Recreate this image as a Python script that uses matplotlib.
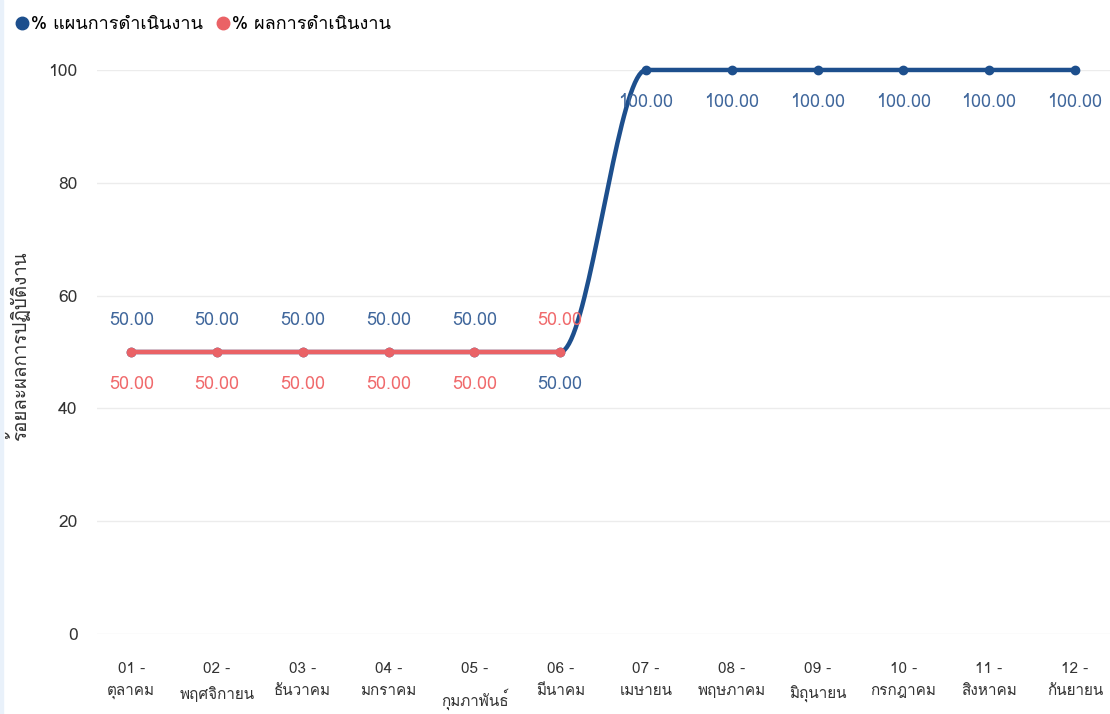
import matplotlib
matplotlib.use("Agg")
import matplotlib.pyplot as plt
import numpy as np
from matplotlib import font_manager
from matplotlib.ft2font import FT2Font
from matplotlib.lines import Line2D
from matplotlib.patches import Rectangle

# data
months = ["01 -\nตุลาคม", "02 -\nพฤศจิกายน", "03 -\nธันวาคม", "04 -\nมกราคม",
          "05 -\nกุมภาพันธ์", "06 -\nมีนาคม", "07 -\nเมษายน", "08 -\nพฤษภาคม",
          "09 -\nมิถุนายน", "10 -\nกรกฎาคม", "11 -\nสิงหาคม", "12 -\nกันยายน"]
plan_pct = [50, 50, 50, 50, 50, 50, 100, 100, 100, 100, 100, 100]
actual_pct = [50, 50, 50, 50, 50, 50]
plan_name = "% แผนการดำเนินงาน"
actual_name = "% ผลการดำเนินงาน"
y_title = "ร้อยละผลการปฏิบัติงาน"
y_ticks = [0, 20, 40, 60, 80, 100]

# style
BLUE = "#1d4f8d"
RED = "#ea6266"
BLUE_TXT = "#40679c"
RED_TXT = "#f06a6c"
plan_side = [1, 1, 1, 1, 1, -1, -1, -1, -1, -1, -1, -1]
actual_side = [-1, -1, -1, -1, -1, 1]


def thai_family():
    for f in font_manager.fontManager.ttflist:
        try:
            if 0x0E01 in FT2Font(f.fname).get_charmap():
                return f.name
        except Exception:
            pass
    return "DejaVu Sans"


plt.rcParams["font.family"] = [thai_family(), "DejaVu Sans"]


def monotone(xs, ys, n=40):
    """Fritsch-Carlson style monotone cubic, sampled for drawing."""
    xs = np.asarray(xs, float)
    ys = np.asarray(ys, float)
    d = np.diff(ys) / np.diff(xs)
    m = np.zeros_like(ys)
    m[0], m[-1] = d[0], d[-1]
    for k in range(1, len(ys) - 1):
        if d[k - 1] * d[k] > 0:
            m[k] = 2 * d[k - 1] * d[k] / (d[k - 1] + d[k])
    px, py = [], []
    for k in range(len(xs) - 1):
        h = xs[k + 1] - xs[k]
        t = np.linspace(0, 1, n)
        h00 = 2 * t**3 - 3 * t**2 + 1
        h10 = t**3 - 2 * t**2 + t
        h01 = -2 * t**3 + 3 * t**2
        h11 = t**3 - t**2
        px.append(xs[k] + t * h)
        py.append(h00 * ys[k] + h10 * h * m[k] + h01 * ys[k + 1] + h11 * h * m[k + 1])
    return np.concatenate(px), np.concatenate(py)


fig = plt.figure(figsize=(11.1, 7.14), dpi=100)
fig.patches.append(Rectangle((0, 0), 0.003, 1, transform=fig.transFigure,
                             color="#e9f1fa", zorder=0))
ax = fig.add_axes([0.0874, 0.112, 0.9126, 0.790])

x_plan = np.arange(1, len(plan_pct) + 1)
x_act = np.arange(1, len(actual_pct) + 1)

sx, sy = monotone(x_plan, plan_pct)
ax.plot(sx, sy, color=BLUE, lw=3.2, solid_capstyle="round", zorder=3, clip_on=False)
ax.plot(x_plan, plan_pct, "o", color=BLUE, ms=6, zorder=4, clip_on=False)
ax.plot(x_act, actual_pct, color=RED, lw=3.2, solid_capstyle="round", zorder=5, clip_on=False)
ax.plot(x_act, actual_pct, "o", color=RED, ms=6, zorder=6, clip_on=False)

for x, v, s in zip(x_plan, plan_pct, plan_side):
    ax.annotate(f"{v:.2f}", (x, v), xytext=(0, 23 * s), textcoords="offset points",
                ha="center", va="center", color=BLUE_TXT, fontsize=13, zorder=7)
for x, v, s in zip(x_act, actual_pct, actual_side):
    ax.annotate(f"{v:.2f}", (x, v), xytext=(0, 23 * s), textcoords="offset points",
                ha="center", va="center", color=RED_TXT, fontsize=13, zorder=7)

ax.set_xlim(0.6, 12.41)
ax.set_ylim(0, 100)
ax.set_yticks(y_ticks)
ax.set_xticks(x_plan)
ax.set_xticklabels(months, fontsize=11, color="#333333", linespacing=1.75)
ax.tick_params(axis="y", labelsize=12.5, colors="#333333", length=0, pad=14)
ax.tick_params(axis="x", length=0, pad=20)
ax.grid(axis="y", color="#ececec", lw=1)
ax.set_axisbelow(True)
for sp in ax.spines.values():
    sp.set_visible(False)

fig.text(0.016, 0.515, y_title, rotation=90, ha="center", va="center",
         fontsize=13.5, color="#333333")

handles = [Line2D([], [], ls="", marker="o", ms=9, color=BLUE, label=plan_name),
           Line2D([], [], ls="", marker="o", ms=9, color=RED, label=actual_name)]
fig.legend(handles=handles, loc="upper left", bbox_to_anchor=(0.0, 0.996), ncol=2,
           frameon=False, fontsize=13, handletextpad=0.0, columnspacing=0.6,
           handlelength=1.0, borderaxespad=0.3)

fig.savefig("out.png", dpi=100, facecolor="white")
